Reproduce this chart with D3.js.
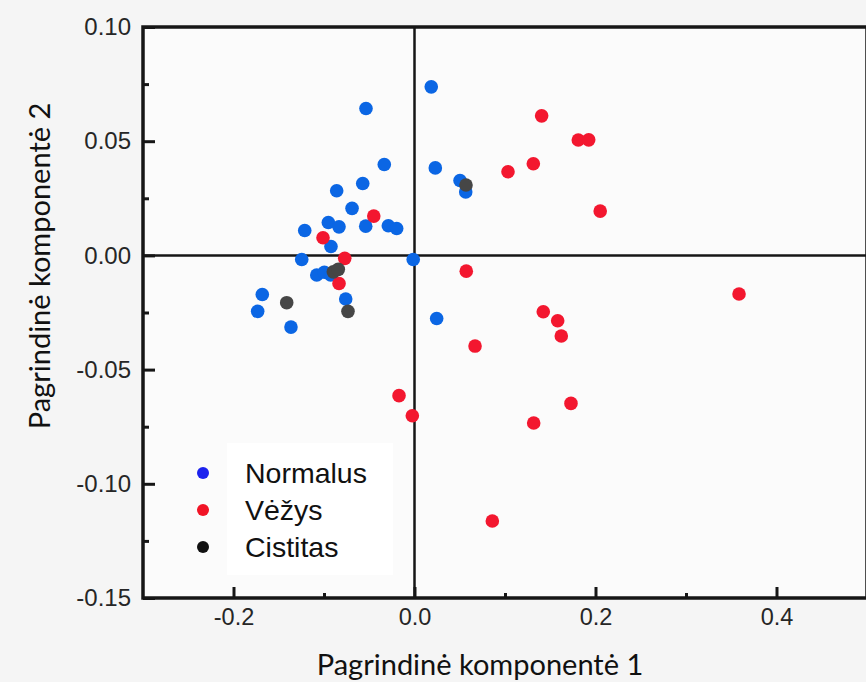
<!DOCTYPE html>
<html>
<head>
<meta charset="utf-8">
<script src="https://cdn.jsdelivr.net/npm/d3@7"></script>
<style>
  html, body { margin: 0; padding: 0; background: #f5f5f5; }
  svg { display: block; }
</style>
</head>
<body>
<svg id="chart" width="866" height="682"></svg>
<script>
// PCA scores: [PC1, PC2] per sample, grouped by diagnosis
const normalus = [
  [0.0185, 0.0738], [-0.0536, 0.0643], [-0.0334, 0.0398], [0.023, 0.0383],
  [-0.0572, 0.0315], [-0.086, 0.0283], [-0.069, 0.0206], [-0.0952, 0.0144],
  [-0.0834, 0.0125], [-0.0539, 0.0128], [-0.0289, 0.0130], [-0.0197, 0.0118],
  [-0.1213, 0.0109], [-0.0923, 0.0039], [-0.1246, -0.0018], [-0.0014, -0.0018],
  [0.0503, 0.0328], [0.0566, 0.0278], [-0.108, -0.0086], [-0.0996, -0.0074],
  [-0.0926, -0.0086], [-0.076, -0.0191], [-0.1682, -0.0171], [-0.1733, -0.0245],
  [-0.1365, -0.0314], [0.0245, -0.0276]
];
const vezys = [
  [-0.045, 0.0172], [-0.1011, 0.0077], [-0.0771, -0.0013], [0.1405, 0.0611],
  [0.181, 0.0505], [0.1925, 0.0506], [0.1313, 0.0401], [0.1033, 0.0366],
  [0.2052, 0.0194], [-0.0834, -0.0123], [-0.0171, -0.0614], [-0.0024, -0.0702],
  [0.0572, -0.0069], [0.3586, -0.0169], [0.1423, -0.0247], [0.1582, -0.0286],
  [0.1622, -0.0353], [0.0669, -0.0397], [0.1729, -0.0648], [0.1317, -0.0734],
  [0.086, -0.1163]
];
const cistitas = [
  [0.0569, 0.0308], [-0.0897, -0.0072], [-0.0842, -0.0061], [-0.0735, -0.0245],
  [-0.1412, -0.0207]
];

const legendLabels = ["Normalus", "Vėžys", "Cistitas"];
const xTicks = [-0.2, 0.0, 0.2, 0.4];
const xMinorTicks = [-0.1, 0.1, 0.3];
const yTicks = [0.10, 0.05, 0.00, -0.05, -0.10, -0.15];
const yMinorTicks = [0.075, 0.025, -0.025, -0.075, -0.125];
const xTitle = "Pagrindinė komponentė 1";
const yTitle = "Pagrindinė komponentė 2";

const groups = [
  { data: normalus, fill: "#0b66e4", legend: "#1c22ee" },
  { data: vezys, fill: "#f3172f", legend: "#f11426" },
  { data: cistitas, fill: "#464646", legend: "#111111" }
];

const svg = d3.select("#chart");
const plotLeft = 143, plotRight = 867, plotTop = 27, plotBottom = 598;

const x = d3.scaleLinear().domain([-0.3, 0.5]).range([plotLeft, plotRight]);
const y = d3.scaleLinear().domain([-0.15, 0.10]).range([plotBottom, plotTop]);

// plain hyphen-minus for negative tick labels
const fmt = p => d => d3.format(p)(d).replace("\u2212", "-");

// plot background
svg.append("rect")
  .attr("x", plotLeft).attr("y", plotTop)
  .attr("width", plotRight - plotLeft).attr("height", plotBottom - plotTop)
  .attr("fill", "#fbfbfb");

const tickFont = "'Liberation Sans', Arial, sans-serif";
const ink = "#161616";

// y axis (inward ticks)
const yAxis = svg.append("g").attr("transform", `translate(${plotLeft},0)`)
  .call(d3.axisLeft(y).tickValues(yTicks).tickFormat(fmt(".2f"))
    .tickSizeInner(-12).tickSizeOuter(0).tickPadding(12));
yAxis.select(".domain").remove();
yAxis.selectAll("line").attr("stroke", ink).attr("stroke-width", 3);
yAxis.selectAll("text").attr("font-family", tickFont).attr("font-size", 24)
  .attr("fill", "#262626");
const yMinor = svg.append("g").attr("transform", `translate(${plotLeft},0)`)
  .call(d3.axisLeft(y).tickValues(yMinorTicks).tickFormat("")
    .tickSizeInner(-6).tickSizeOuter(0));
yMinor.select(".domain").remove();
yMinor.selectAll("line").attr("stroke", ink).attr("stroke-width", 3);

// x axis (inward ticks)
const xAxis = svg.append("g").attr("transform", `translate(0,${plotBottom})`)
  .call(d3.axisBottom(x).tickValues(xTicks).tickFormat(fmt(".1f"))
    .tickSizeInner(-11).tickSizeOuter(0).tickPadding(10));
xAxis.select(".domain").remove();
xAxis.selectAll("line").attr("stroke", ink).attr("stroke-width", 3);
xAxis.selectAll("text").attr("font-family", tickFont).attr("font-size", 23.5)
  .attr("fill", "#262626");
const xMinor = svg.append("g").attr("transform", `translate(0,${plotBottom})`)
  .call(d3.axisBottom(x).tickValues(xMinorTicks).tickFormat("")
    .tickSizeInner(-5).tickSizeOuter(0));
xMinor.select(".domain").remove();
xMinor.selectAll("line").attr("stroke", ink).attr("stroke-width", 3);

// frame
svg.append("rect")
  .attr("x", plotLeft).attr("y", plotTop)
  .attr("width", plotRight - plotLeft).attr("height", plotBottom - plotTop)
  .attr("fill", "none").attr("stroke", ink).attr("stroke-width", 3.5);

// zero reference lines
svg.append("line")
  .attr("x1", x(0)).attr("x2", x(0)).attr("y1", plotTop).attr("y2", plotBottom)
  .attr("stroke", ink).attr("stroke-width", 2.5);
svg.append("line")
  .attr("x1", plotLeft).attr("x2", plotRight).attr("y1", y(0)).attr("y2", y(0))
  .attr("stroke", ink).attr("stroke-width", 2.5);

// legend
const legend = svg.append("g");
legend.append("rect")
  .attr("x", 227).attr("y", 443).attr("width", 166).attr("height", 132)
  .attr("fill", "#ffffff");
legendLabels.forEach((lab, i) => {
  const cy = 473 + i * 37;
  legend.append("circle").attr("cx", 203).attr("cy", cy).attr("r", 6)
    .attr("fill", groups[i].legend);
  legend.append("text").attr("x", 245).attr("y", cy)
    .attr("dy", "0.36em")
    .attr("font-family", tickFont).attr("font-size", 28.5).attr("fill", "#111")
    .text(lab);
});

// points
const pts = svg.append("g");
groups.forEach(g => {
  pts.selectAll(null).data(g.data).enter().append("circle")
    .attr("cx", d => x(d[0])).attr("cy", d => y(d[1]))
    .attr("r", 6.8).attr("fill", g.fill);
});

// axis titles
const titleFont = "Lato, 'Open Sans', sans-serif";
svg.append("text")
  .attr("x", 480).attr("y", 675).attr("text-anchor", "middle")
  .attr("font-family", titleFont).attr("font-size", 29).attr("fill", "#111")
  .text(xTitle);
svg.append("text")
  .attr("transform", "translate(50,266) rotate(-90)").attr("text-anchor", "middle")
  .attr("font-family", titleFont).attr("font-size", 29).attr("fill", "#111")
  .text(yTitle);
</script>
</body>
</html>
